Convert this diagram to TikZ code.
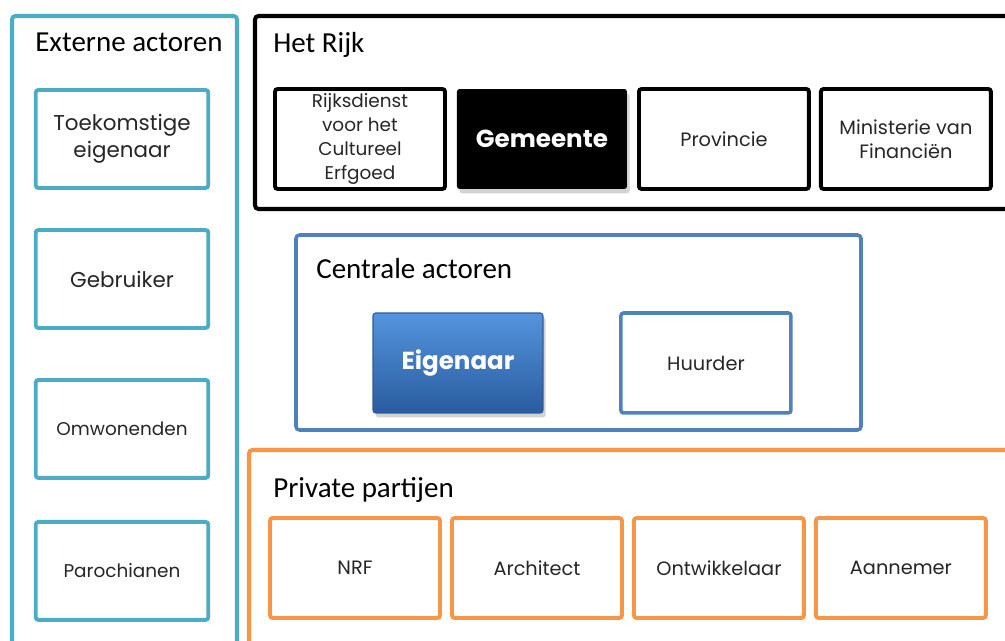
\documentclass[tikz,border=0pt]{standalone}
\usepackage{fontspec}
\setmainfont{Poppins}
\newfontfamily\titlefont{Carlito}
\usepackage{xcolor}
\usetikzlibrary{positioning, shadows}

\definecolor{extteal}{RGB}{75,172,198}
\definecolor{centblue}{RGB}{79,129,189}
\definecolor{privorange}{RGB}{247,150,70}
\definecolor{eigtop}{RGB}{84,148,222}
\definecolor{eigbottom}{RGB}{42,92,158}

\begin{document}
\begin{tikzpicture}[
    x=0.02cm, y=-0.02cm,
    frame/.style={line width=2.3pt, rounded corners=2pt},
    title/.style={anchor=base west, inner sep=0pt, font=\titlefont\fontsize{16.5}{18}\selectfont},
    actor/.style={rectangle, rounded corners=1.5pt, line width=2.2pt, outer sep=0pt, fill=white, minimum width=3.4cm, minimum height=2cm, align=center, text=black!85, inner sep=1pt, font=\fontsize{11}{13.5}\selectfont},
    extern/.style={actor, draw=extteal, minimum width=3.45cm, minimum height=1.96cm, font=\fontsize{12.2}{15.3}\selectfont},
    rijk/.style={actor, draw=black},
    central/.style={actor, draw=centblue, line width=2pt},
    private/.style={actor, draw=privorange},
    accent/.style={actor, text=white, font=\bfseries\fontsize{14}{16}\selectfont, drop shadow={shadow xshift=1.5pt, shadow yshift=-2.5pt, opacity=0.35}}
]
\useasboundingbox (0,0) rectangle (1005,641);
\clip (0,0) rectangle (1005,641);

% Frames
\draw[frame, draw=extteal] (12,16) rectangle (237,700);
\draw[frame, draw=black] (255,16) rectangle (1040,209);
\draw[frame, draw=centblue, line width=2pt] (296,235) rectangle (861,430);
\draw[frame, draw=privorange] (249,450) rectangle (1040,700);

% Titles
\node[title] (externtitle) at (35,52) {Externe actoren};
\node[title] (rijktitle) at (273,53) {Het Rijk};
\node[title] (centraltitle) at (316,279) {Centrale actoren};
\node[title] (privatetitle) at (273,498) {Private partijen};

% Externe actoren
\node[extern] (toekomst) at (122,139) {Toekomstige\\eigenaar};
\node[extern, below=0.84cm of toekomst] (gebruiker) {Gebruiker};
\node[extern, below=1.04cm of gebruiker, font=\fontsize{10.5}{13}\selectfont] (omwonenden) {Omwonenden};
\node[extern, below=0.88cm of omwonenden, font=\fontsize{10.5}{13}\selectfont] (parochianen) {Parochianen};

% Het Rijk
\node[rijk, font=\fontsize{10.5}{13.6}\selectfont] (rce) at (360,139) {Rijksdienst\\voor het\\Cultureel\\Erfgoed};
\node[accent, fill=black, right=0.24cm of rce] (gemeente) {Gemeente};
\node[rijk, right=0.24cm of gemeente] (provincie) {Provincie};
\node[rijk, right=0.24cm of provincie] (financien) {Ministerie van\\Financiën};

% Centrale actoren
\node[accent, top color=eigtop, bottom color=eigbottom, draw=eigbottom, line width=0.6pt] (eigenaar) at (458,363) {Eigenaar};
\node[central, right=1.56cm of eigenaar] (huurder) {Huurder};

% Private partijen
\node[private] (nrf) at (355,568) {NRF};
\node[private, right=0.24cm of nrf] (architect) {Architect};
\node[private, right=0.24cm of architect] (ontwikkelaar) {Ontwikkelaar};
\node[private, right=0.24cm of ontwikkelaar] (aannemer) {Aannemer};

\end{tikzpicture}
\end{document}
